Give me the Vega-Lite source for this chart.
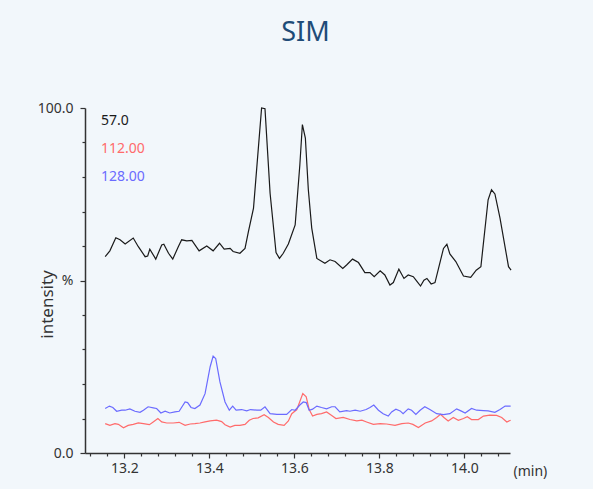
{
  "$schema": "https://vega.github.io/schema/vega-lite/v6.json",
  "width": 425,
  "height": 345,
  "autosize": {"type": "none"},
  "padding": {"left": 85, "top": 108, "right": 83, "bottom": 36},
  "background": "#f2f7fb",
  "title": {"text": "SIM", "fontSize": 27, "font": "Noto Sans", "fontWeight": "normal", "color": "#1f4c78", "offset": 54, "anchor": "middle", "dx": 8},
  "config": {
    "view": {"stroke": null},
    "font": "Noto Sans",
    "axis": {"domainColor": "#333333", "domainWidth": 1.5, "tickColor": "#333333", "tickWidth": 1.2, "labelColor": "#333333", "labelFontSize": 14, "titleColor": "#333333", "titleFontWeight": "normal", "grid": false, "labelFlush": false, "labelOverlap": false}
  },
  "data": {"values": [
    {"s":"57.0","t":13.155,"v":56.9},{"s":"57.0","t":13.166,"v":58.6},{"s":"57.0","t":13.180,"v":62.4},{"s":"57.0","t":13.190,"v":61.8},{"s":"57.0","t":13.202,"v":60.6},{"s":"57.0","t":13.221,"v":62.3},{"s":"57.0","t":13.233,"v":59.8},{"s":"57.0","t":13.249,"v":56.9},{"s":"57.0","t":13.255,"v":57.1},{"s":"57.0","t":13.260,"v":59.1},{"s":"57.0","t":13.274,"v":56.2},{"s":"57.0","t":13.288,"v":60.3},{"s":"57.0","t":13.293,"v":60.5},{"s":"57.0","t":13.304,"v":57.9},{"s":"57.0","t":13.314,"v":56.2},{"s":"57.0","t":13.327,"v":59.8},{"s":"57.0","t":13.335,"v":61.8},{"s":"57.0","t":13.347,"v":61.5},{"s":"57.0","t":13.359,"v":61.6},{"s":"57.0","t":13.376,"v":58.6},{"s":"57.0","t":13.394,"v":60.0},{"s":"57.0","t":13.409,"v":58.6},{"s":"57.0","t":13.424,"v":60.8},{"s":"57.0","t":13.435,"v":59.1},{"s":"57.0","t":13.449,"v":59.3},{"s":"57.0","t":13.456,"v":58.4},{"s":"57.0","t":13.472,"v":57.9},{"s":"57.0","t":13.484,"v":59.3},{"s":"57.0","t":13.492,"v":64.2},{"s":"57.0","t":13.504,"v":71.0},{"s":"57.0","t":13.523,"v":100.0},{"s":"57.0","t":13.531,"v":99.8},{"s":"57.0","t":13.543,"v":75.3},{"s":"57.0","t":13.557,"v":58.1},{"s":"57.0","t":13.565,"v":56.4},{"s":"57.0","t":13.574,"v":57.9},{"s":"57.0","t":13.586,"v":60.6},{"s":"57.0","t":13.602,"v":66.1},{"s":"57.0","t":13.613,"v":83.5},{"s":"57.0","t":13.619,"v":95.2},{"s":"57.0","t":13.626,"v":91.3},{"s":"57.0","t":13.633,"v":76.3},{"s":"57.0","t":13.641,"v":65.2},{"s":"57.0","t":13.653,"v":56.4},{"s":"57.0","t":13.672,"v":55.0},{"s":"57.0","t":13.684,"v":56.0},{"s":"57.0","t":13.696,"v":55.5},{"s":"57.0","t":13.714,"v":53.5},{"s":"57.0","t":13.723,"v":54.5},{"s":"57.0","t":13.737,"v":56.2},{"s":"57.0","t":13.751,"v":55.2},{"s":"57.0","t":13.766,"v":52.3},{"s":"57.0","t":13.778,"v":52.3},{"s":"57.0","t":13.788,"v":51.1},{"s":"57.0","t":13.802,"v":52.8},{"s":"57.0","t":13.813,"v":51.6},{"s":"57.0","t":13.825,"v":48.7},{"s":"57.0","t":13.833,"v":49.4},{"s":"57.0","t":13.846,"v":53.3},{"s":"57.0","t":13.858,"v":50.6},{"s":"57.0","t":13.868,"v":51.6},{"s":"57.0","t":13.880,"v":51.1},{"s":"57.0","t":13.889,"v":49.7},{"s":"57.0","t":13.897,"v":48.4},{"s":"57.0","t":13.905,"v":50.1},{"s":"57.0","t":13.912,"v":50.6},{"s":"57.0","t":13.922,"v":49.0},{"s":"57.0","t":13.931,"v":49.4},{"s":"57.0","t":13.951,"v":59.3},{"s":"57.0","t":13.959,"v":60.5},{"s":"57.0","t":13.966,"v":57.7},{"s":"57.0","t":13.980,"v":55.5},{"s":"57.0","t":13.998,"v":51.3},{"s":"57.0","t":14.015,"v":50.9},{"s":"57.0","t":14.028,"v":53.0},{"s":"57.0","t":14.039,"v":54.0},{"s":"57.0","t":14.056,"v":73.4},{"s":"57.0","t":14.064,"v":76.3},{"s":"57.0","t":14.072,"v":75.1},{"s":"57.0","t":14.084,"v":68.1},{"s":"57.0","t":14.104,"v":54.0},{"s":"57.0","t":14.110,"v":53.0},
    {"s":"112.00","t":13.155,"v":8.5},{"s":"112.00","t":13.166,"v":8.0},{"s":"112.00","t":13.178,"v":8.5},{"s":"112.00","t":13.186,"v":8.3},{"s":"112.00","t":13.198,"v":7.3},{"s":"112.00","t":13.209,"v":8.0},{"s":"112.00","t":13.221,"v":8.3},{"s":"112.00","t":13.233,"v":8.7},{"s":"112.00","t":13.245,"v":8.5},{"s":"112.00","t":13.259,"v":8.2},{"s":"112.00","t":13.268,"v":9.0},{"s":"112.00","t":13.279,"v":10.0},{"s":"112.00","t":13.288,"v":9.0},{"s":"112.00","t":13.300,"v":8.7},{"s":"112.00","t":13.315,"v":8.7},{"s":"112.00","t":13.329,"v":8.9},{"s":"112.00","t":13.343,"v":8.0},{"s":"112.00","t":13.355,"v":8.4},{"s":"112.00","t":13.366,"v":8.5},{"s":"112.00","t":13.378,"v":8.7},{"s":"112.00","t":13.390,"v":9.0},{"s":"112.00","t":13.402,"v":9.3},{"s":"112.00","t":13.417,"v":9.5},{"s":"112.00","t":13.429,"v":9.1},{"s":"112.00","t":13.437,"v":8.2},{"s":"112.00","t":13.449,"v":7.5},{"s":"112.00","t":13.460,"v":8.0},{"s":"112.00","t":13.472,"v":8.0},{"s":"112.00","t":13.484,"v":8.3},{"s":"112.00","t":13.494,"v":9.5},{"s":"112.00","t":13.503,"v":10.0},{"s":"112.00","t":13.515,"v":10.2},{"s":"112.00","t":13.529,"v":11.1},{"s":"112.00","t":13.539,"v":10.3},{"s":"112.00","t":13.551,"v":9.0},{"s":"112.00","t":13.562,"v":8.3},{"s":"112.00","t":13.576,"v":8.0},{"s":"112.00","t":13.586,"v":9.3},{"s":"112.00","t":13.594,"v":11.4},{"s":"112.00","t":13.606,"v":12.6},{"s":"112.00","t":13.620,"v":17.2},{"s":"112.00","t":13.628,"v":16.3},{"s":"112.00","t":13.635,"v":12.6},{"s":"112.00","t":13.643,"v":10.7},{"s":"112.00","t":13.653,"v":11.2},{"s":"112.00","t":13.664,"v":11.4},{"s":"112.00","t":13.676,"v":11.9},{"s":"112.00","t":13.688,"v":10.9},{"s":"112.00","t":13.698,"v":10.0},{"s":"112.00","t":13.715,"v":10.3},{"s":"112.00","t":13.731,"v":9.7},{"s":"112.00","t":13.747,"v":9.3},{"s":"112.00","t":13.759,"v":9.5},{"s":"112.00","t":13.770,"v":9.0},{"s":"112.00","t":13.786,"v":8.3},{"s":"112.00","t":13.802,"v":8.5},{"s":"112.00","t":13.817,"v":8.4},{"s":"112.00","t":13.837,"v":8.0},{"s":"112.00","t":13.853,"v":8.5},{"s":"112.00","t":13.868,"v":8.7},{"s":"112.00","t":13.879,"v":8.3},{"s":"112.00","t":13.892,"v":7.4},{"s":"112.00","t":13.908,"v":8.7},{"s":"112.00","t":13.923,"v":9.3},{"s":"112.00","t":13.935,"v":10.3},{"s":"112.00","t":13.944,"v":11.2},{"s":"112.00","t":13.952,"v":10.3},{"s":"112.00","t":13.962,"v":9.3},{"s":"112.00","t":13.974,"v":10.3},{"s":"112.00","t":13.986,"v":9.5},{"s":"112.00","t":13.998,"v":10.0},{"s":"112.00","t":14.007,"v":10.5},{"s":"112.00","t":14.017,"v":9.7},{"s":"112.00","t":14.033,"v":9.7},{"s":"112.00","t":14.045,"v":10.7},{"s":"112.00","t":14.060,"v":11.0},{"s":"112.00","t":14.076,"v":10.9},{"s":"112.00","t":14.088,"v":10.3},{"s":"112.00","t":14.100,"v":9.0},{"s":"112.00","t":14.109,"v":9.5},
    {"s":"128.00","t":13.155,"v":12.9},{"s":"128.00","t":13.165,"v":13.6},{"s":"128.00","t":13.173,"v":13.2},{"s":"128.00","t":13.182,"v":12.1},{"s":"128.00","t":13.194,"v":12.4},{"s":"128.00","t":13.202,"v":12.4},{"s":"128.00","t":13.213,"v":12.8},{"s":"128.00","t":13.225,"v":12.1},{"s":"128.00","t":13.237,"v":11.8},{"s":"128.00","t":13.245,"v":12.4},{"s":"128.00","t":13.256,"v":13.4},{"s":"128.00","t":13.268,"v":13.1},{"s":"128.00","t":13.276,"v":12.9},{"s":"128.00","t":13.286,"v":11.6},{"s":"128.00","t":13.296,"v":12.1},{"s":"128.00","t":13.307,"v":11.6},{"s":"128.00","t":13.319,"v":11.9},{"s":"128.00","t":13.329,"v":12.1},{"s":"128.00","t":13.343,"v":14.8},{"s":"128.00","t":13.349,"v":14.6},{"s":"128.00","t":13.357,"v":13.2},{"s":"128.00","t":13.366,"v":12.9},{"s":"128.00","t":13.378,"v":13.9},{"s":"128.00","t":13.390,"v":17.2},{"s":"128.00","t":13.402,"v":25.0},{"s":"128.00","t":13.409,"v":28.1},{"s":"128.00","t":13.415,"v":27.4},{"s":"128.00","t":13.425,"v":20.6},{"s":"128.00","t":13.437,"v":14.8},{"s":"128.00","t":13.447,"v":12.4},{"s":"128.00","t":13.455,"v":13.6},{"s":"128.00","t":13.463,"v":12.4},{"s":"128.00","t":13.476,"v":12.6},{"s":"128.00","t":13.488,"v":12.2},{"s":"128.00","t":13.497,"v":12.6},{"s":"128.00","t":13.512,"v":12.4},{"s":"128.00","t":13.521,"v":12.4},{"s":"128.00","t":13.531,"v":13.4},{"s":"128.00","t":13.543,"v":11.4},{"s":"128.00","t":13.559,"v":11.2},{"s":"128.00","t":13.574,"v":11.2},{"s":"128.00","t":13.582,"v":11.2},{"s":"128.00","t":13.594,"v":12.6},{"s":"128.00","t":13.602,"v":12.4},{"s":"128.00","t":13.613,"v":13.9},{"s":"128.00","t":13.621,"v":14.8},{"s":"128.00","t":13.628,"v":14.6},{"s":"128.00","t":13.635,"v":12.4},{"s":"128.00","t":13.643,"v":12.7},{"s":"128.00","t":13.653,"v":13.6},{"s":"128.00","t":13.664,"v":13.2},{"s":"128.00","t":13.676,"v":12.8},{"s":"128.00","t":13.688,"v":13.4},{"s":"128.00","t":13.696,"v":13.4},{"s":"128.00","t":13.707,"v":11.9},{"s":"128.00","t":13.723,"v":12.3},{"s":"128.00","t":13.731,"v":12.1},{"s":"128.00","t":13.743,"v":12.4},{"s":"128.00","t":13.755,"v":12.1},{"s":"128.00","t":13.769,"v":12.6},{"s":"128.00","t":13.778,"v":13.2},{"s":"128.00","t":13.787,"v":13.9},{"s":"128.00","t":13.798,"v":12.4},{"s":"128.00","t":13.809,"v":11.4},{"s":"128.00","t":13.821,"v":10.7},{"s":"128.00","t":13.829,"v":11.9},{"s":"128.00","t":13.839,"v":12.7},{"s":"128.00","t":13.849,"v":12.2},{"s":"128.00","t":13.856,"v":11.4},{"s":"128.00","t":13.868,"v":12.8},{"s":"128.00","t":13.876,"v":12.4},{"s":"128.00","t":13.886,"v":11.2},{"s":"128.00","t":13.896,"v":12.4},{"s":"128.00","t":13.907,"v":13.4},{"s":"128.00","t":13.919,"v":12.6},{"s":"128.00","t":13.935,"v":11.4},{"s":"128.00","t":13.951,"v":11.1},{"s":"128.00","t":13.966,"v":11.4},{"s":"128.00","t":13.982,"v":12.8},{"s":"128.00","t":13.992,"v":12.2},{"s":"128.00","t":14.002,"v":11.6},{"s":"128.00","t":14.017,"v":12.9},{"s":"128.00","t":14.029,"v":12.4},{"s":"128.00","t":14.045,"v":12.3},{"s":"128.00","t":14.056,"v":12.2},{"s":"128.00","t":14.072,"v":11.8},{"s":"128.00","t":14.084,"v":12.6},{"s":"128.00","t":14.096,"v":13.6},{"s":"128.00","t":14.109,"v":13.6}
  ]},
  "mark": {"type": "line", "strokeWidth": 1.2, "clip": false},
  "encoding": {
    "x": {
      "field": "t", "type": "quantitative",
      "scale": {"domain": [13.1075, 14.1075], "nice": false, "zero": false},
      "axis": {
        "values": [13.12,13.16,13.2,13.24,13.28,13.32,13.36,13.4,13.44,13.48,13.52,13.56,13.6,13.64,13.68,13.72,13.76,13.8,13.84,13.88,13.92,13.96,14.0,14.04,14.08],
        "labelExpr": "abs(datum.value*5 - round(datum.value*5)) < 0.01 ? format(datum.value, '.1f') : ''",
        "tickSize": {"condition": {"test": "abs(datum.value*5 - round(datum.value*5)) < 0.01", "value": 5}, "value": 3},
        "labelPadding": 3,
        "title": "(min)", "titleFontSize": 14, "titleAlign": "left", "titleAnchor": "start", "titleX": 428, "titleY": 22, "titleBaseline": "alphabetic"
      }
    },
    "y": {
      "field": "v", "type": "quantitative",
      "scale": {"domain": [0, 100], "nice": false},
      "axis": {
        "values": [0,10,20,30,40,50,60,70,80,90,100],
        "labelExpr": "datum.value == 100 ? '100.0' : datum.value == 50 ? '%' : datum.value == 0 ? '0.0' : ''",
        "tickSize": {"condition": {"test": "datum.value % 50 == 0", "value": 5}, "value": 3},
        "labelPadding": 7,
        "title": "intensity", "titleFontSize": 17, "titleAngle": -90, "titleX": -38, "titleY": 196, "titleAlign": "center", "titleBaseline": "middle"
      }
    },
    "color": {
      "field": "s", "type": "nominal",
      "scale": {"domain": ["57.0", "112.00", "128.00"], "range": ["#1a1a1a", "#ff6b6b", "#6b6bff"]},
      "legend": {
        "orient": "none", "legendX": 2, "legendY": 6, "title": null,
        "symbolSize": 0, "symbolOpacity": 0, "symbolStrokeWidth": 0, "labelOffset": 0,
        "labelFontSize": 14, "rowPadding": 14,
        "labelColor": {"expr": "datum.value == '57.0' ? '#1a1a1a' : datum.value == '112.00' ? '#ff6b6b' : '#6b6bff'"}
      }
    }
  }
}
